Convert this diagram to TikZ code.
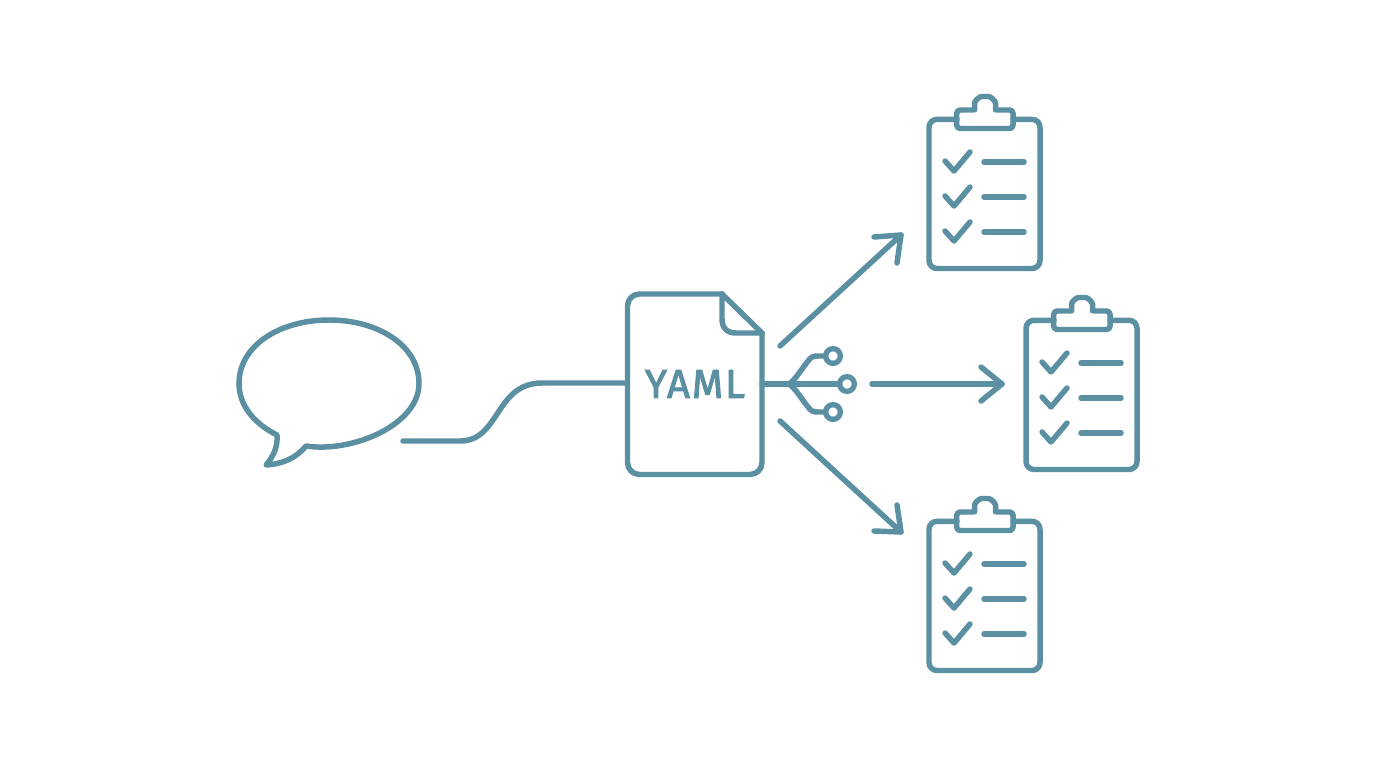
\documentclass[tikz,border=0pt]{standalone}
\usepackage{fontspec}
\setmainfont{Fira Sans}
\newfontfamily\yamlfont[FakeBold=2.4,LetterSpace=5]{Fira Sans}
\definecolor{teal1}{HTML}{5A90A2}
\tikzset{
  x=0.75pt,y=-0.75pt,
  ink/.style={draw=teal1,line width=4.1pt,line cap=round,line join=round},
  dot/.style={circle,draw=teal1,line width=4pt,minimum size=11pt,inner sep=0pt},
  clipboard/.pic={
    \draw[ink,rounded corners=6pt] (-28,-132.7) -- (-56,-132.7) -- (-56,16.5) -- (55,16.5) -- (55,-132.7) -- (28,-132.7);
    \draw[ink,rounded corners=2.5pt] (-28.3,-123.5) -- (-28.3,-142) -- (-15,-142)
       .. controls (-11,-142) and (-10.5,-144) .. (-10.5,-145.5)
       .. controls (-10.5,-151) and (-5.8,-155.5) .. (0,-155.5)
       .. controls (5.8,-155.5) and (10.5,-151) .. (10.5,-145.5)
       .. controls (10.5,-144) and (11,-142) .. (15,-142)
       -- (28,-142) -- (28,-123.5) -- cycle;
    \foreach \yy in {0,35,70}{
      \draw[ink] (-40,{\yy-91}) -- (-31,{\yy-81}) -- (-15,{\yy-100});
      \draw[ink] (-1,{\yy-90}) -- (39,{\yy-90});
    }
  }
}
\begin{document}
\begin{tikzpicture}
\useasboundingbox[fill=white] (0,0) rectangle (1376,768);
% speech bubble
\coordinate (tailA) at (277,435);
\coordinate (tailTip) at (266,465);
\coordinate (tailB) at (306,446);
\draw[ink] (tailB)
  .. controls (352,453) and (419,425) .. (419,383.5)
  .. controls (419,346) and (379,320) .. (329,320)
  .. controls (279,320) and (239,346) .. (239,383.5)
  .. controls (239,406) and (255,424) .. (tailA)
  .. controls (278,447) and (273,457) .. (tailTip)
  .. controls (283,464) and (296,458) .. (tailB) -- cycle;
% document
\node[inner sep=0pt,text=teal1] (yaml) at (695,384) {\yamlfont\fontsize{30pt}{30pt}\selectfont YAML};
\coordinate (docL) at (627.5,383);
\coordinate (docR) at (762,384);
\draw[ink,rounded corners=9pt] (722,294) -- (627.5,294) -- (627.5,474.5) -- (762,474.5) -- (762,333);
\draw[ink] (722,294) -- (762,333);
\draw[ink] (722,294) -- (722,319) .. controls (722,328) and (727,333) .. (736,333) -- (762,333);
% wave
\coordinate (waveStart) at (403,441);
\draw[ink] (waveStart) -- (460,441) .. controls (500,441) and (495,383) .. (542,383) -- (docL);
% hub
\coordinate (hub) at (789,384);
\node[dot] (c1) at (833,356) {};
\node[dot] (c2) at (847,384) {};
\node[dot] (c3) at (833,412) {};
\draw[ink] (docR) -- (hub) -- (c2);
\draw[ink] (hub) .. controls (796,379) and (803,367) .. (808,361) .. controls (811,357) and (813,356) .. (818,356) -- (c1);
\draw[ink] (hub) .. controls (796,389) and (803,401) .. (808,407) .. controls (811,411) and (813,412) .. (818,412) -- (c3);
% arrows
\coordinate (a1s) at (780,346); \coordinate (a1e) at (901,235);
\coordinate (a2s) at (872,384); \coordinate (a2e) at (1002,384);
\coordinate (a3s) at (780,421); \coordinate (a3e) at (901,532);
\draw[ink] (a1s) -- (a1e);
\draw[ink] (874,237) -- (a1e) -- (897,263);
\draw[ink] (a2s) -- (a2e);
\draw[ink] (981,367) -- (a2e) -- (981,401);
\draw[ink] (a3s) -- (a3e);
\draw[ink] (874,531) -- (a3e) -- (897,505);
% clipboards
\pic at (985,252) {clipboard};
\pic at (1082,453) {clipboard};
\pic at (985,654) {clipboard};
\end{tikzpicture}
\end{document}
